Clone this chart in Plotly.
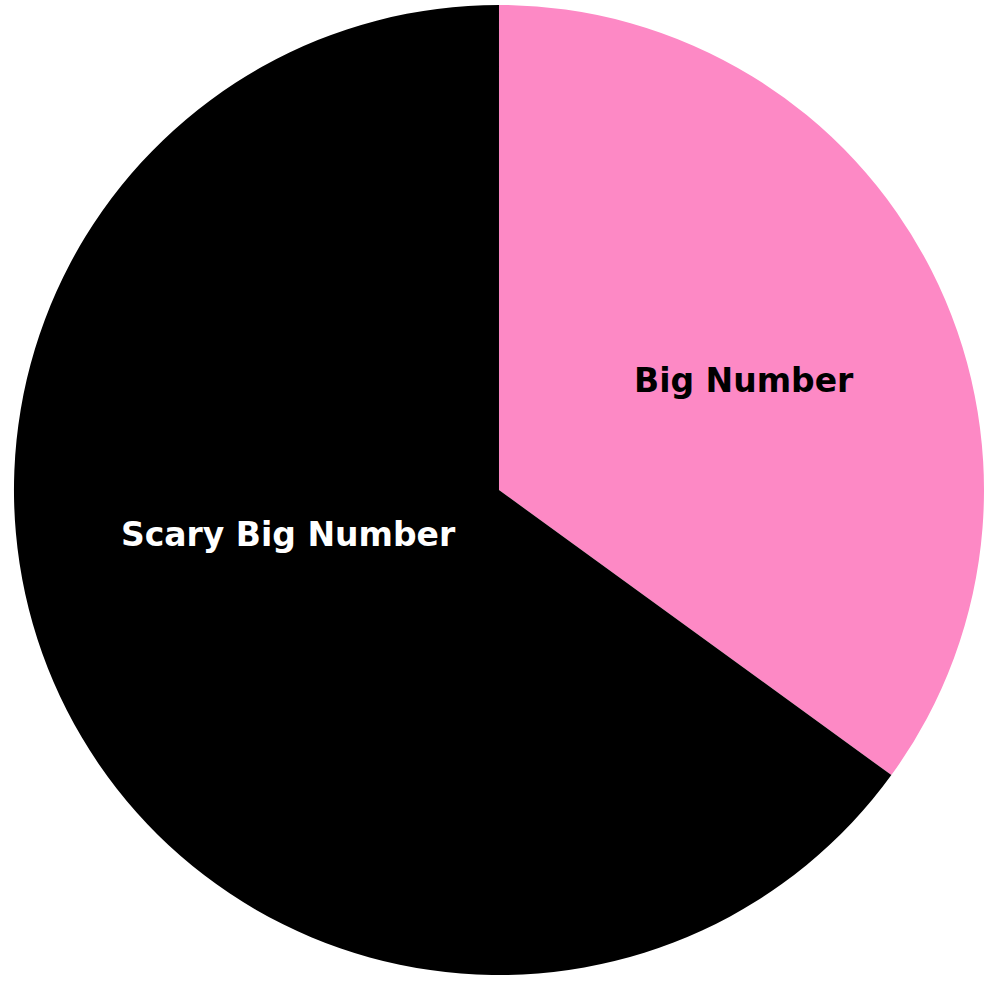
import plotly.graph_objects as go

labels = ["Big Number", "Scary Big Number"]
values = [35, 65]
colors = ["#fd89c5", "#000000"]
text_colors = ["#000000", "#ffffff"]

fig = go.Figure(go.Pie(
    labels=labels,
    values=values,
    sort=False,
    direction="clockwise",
    rotation=0,
    marker=dict(colors=colors, line=dict(width=0)),
    textinfo="none",
    domain=dict(x=[0.0142, 1.0], y=[0.0051, 0.9959]),
    hoverinfo="label+value",
))

label_pos = [(0.756, 0.6126), (0.2927, 0.4547)]
for lab, col, (px, py) in zip(labels, text_colors, label_pos):
    fig.add_annotation(
        text=f"<b>{lab}</b>", x=px, y=py, xref="paper", yref="paper",
        xanchor="center", yanchor="middle", showarrow=False,
        font=dict(family="DejaVu Sans", size=33, color=col),
    )

fig.update_layout(
    width=984, height=981,
    margin=dict(l=0, r=0, t=0, b=0),
    paper_bgcolor="white",
    plot_bgcolor="white",
    showlegend=False,
)

fig.write_html(
    "out.html",
    config={"displayModeBar": False},
    post_script="document.body.style.margin='0';document.body.style.overflow='hidden';",
)
